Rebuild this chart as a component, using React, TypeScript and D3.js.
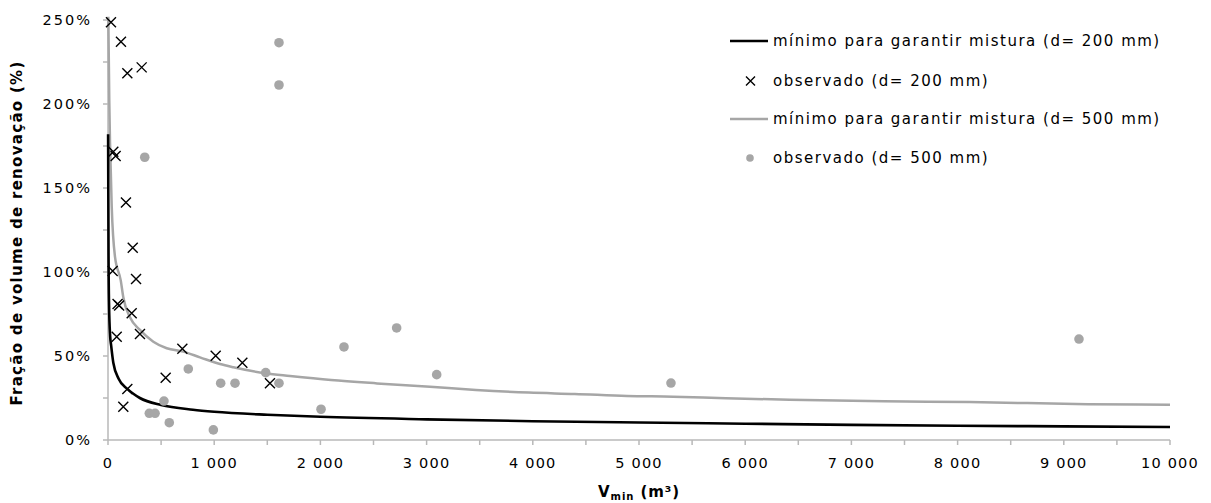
import React from "react";
import * as d3 from "d3";

// Observed renewal fractions (V in m³, fraction in %)
const obs200V = [28, 122, 182, 317, 50, 72, 169, 233, 44, 264, 90, 105, 223, 82, 301, 700, 543, 1014, 1265, 1525, 182, 144];
const obs200P = [248.6, 237, 218.3, 221.8, 171.6, 169, 141.3, 114.5, 100.6, 95.8, 81, 80, 75.4, 61.5, 63.1, 54.3, 37.1, 50.2, 46, 33.8, 30.4, 19.8];

const obs500V = [1610, 1610, 346, 756, 1061, 1196, 1485, 1610, 527, 389, 443, 577, 992, 2006, 2222, 2718, 3095, 5301, 9143];
const obs500P = [236.5, 211.3, 168.3, 42.3, 33.8, 33.8, 40.1, 33.8, 23.2, 15.9, 15.9, 10.3, 6.0, 18.3, 55.4, 66.7, 38.9, 33.9, 60.1];

// Minimum renewal needed to guarantee mixing
const min200V = [1, 5, 10, 20, 30, 50, 100, 182, 300, 500, 800, 1000, 1500, 2000, 3000, 4000, 5000, 6000, 7000, 8000, 9000, 10000];
const min200P = [182, 110, 80, 62, 56, 46, 36.5, 30.4, 25, 20.8, 18, 16.8, 15, 13.8, 12.3, 11.2, 10.4, 9.7, 9.0, 8.5, 8.1, 7.7];

const min500V = [3, 12, 19, 35, 66, 120, 144, 207, 301, 427, 553, 709, 866, 1055, 1180, 1483, 1714, 2100, 2533, 3032, 3465, 3962, 4395, 4887, 5320, 5819, 6563, 7307, 8112, 9228, 10000];
const min500P = [252, 202, 177, 139, 109, 95, 85, 73, 65.5, 58.5, 54.6, 52.6, 49.2, 45.2, 43.3, 39.7, 38.1, 35.7, 33.7, 31.7, 29.8, 28.2, 27.4, 26.2, 25.8, 24.8, 23.8, 23.0, 22.6, 21.3, 21.0];

const xTicks = [0, 1000, 2000, 3000, 4000, 5000, 6000, 7000, 8000, 9000, 10000];
const xMinor = d3.range(0, 10001, 500);
const yTicks = [0, 50, 100, 150, 200, 250];
const yMinor = d3.range(0, 251, 25);

const legendLabels = [
  "mínimo para garantir mistura (d= 200 mm)",
  "observado (d= 200 mm)",
  "mínimo para garantir mistura (d= 500 mm)",
  "observado (d= 500 mm)",
];

const GREY = "#a6a6a6";
const AXIS = "#b8b8b8";
const FONT = "'DejaVu Sans', Verdana, sans-serif";

const fmtX = (v: number) => (v >= 1000 ? `${Math.floor(v / 1000)} ${String(v % 1000).padStart(3, "0")}` : `${v}`);

export default function App() {
  const x = d3.scaleLinear().domain([0, 10000]).range([108, 1170]);
  const y = d3.scaleLinear().domain([0, 250]).range([440, 20]);
  const line = d3
    .line<[number, number]>()
    .x((d) => x(d[0]))
    .y((d) => y(d[1]))
    .curve(d3.curveMonotoneX);

  const c200 = min200V.map((v, i) => [v, min200P[i]] as [number, number]);
  const c500 = min500V.map((v, i) => [v, min500P[i]] as [number, number]);

  const cross = (cx: number, cy: number, s: number, key: string | number) => (
    <path
      key={key}
      d={`M${cx - s},${cy - s}L${cx + s},${cy + s}M${cx - s},${cy + s}L${cx + s},${cy - s}`}
      stroke="#000"
      strokeWidth={1.4}
      fill="none"
    />
  );

  const legY = [41, 81, 119, 158];

  return (
    <svg
      width={1211}
      height={503}
      style={{ position: "absolute", left: 0, top: 0, background: "#fff" }}
      fontFamily={FONT}
    >
      {/* axes */}
      <line x1={x(0)} x2={x(10000)} y1={y(0)} y2={y(0)} stroke={AXIS} strokeWidth={1.5} />
      <line x1={x(0)} x2={x(0)} y1={y(0)} y2={y(250)} stroke={AXIS} strokeWidth={1.5} />
      {xMinor.map((v) => (
        <line key={`xt${v}`} x1={x(v)} x2={x(v)} y1={y(0)} y2={y(0) + 5} stroke={AXIS} strokeWidth={1.5} />
      ))}
      {yMinor.map((v) => (
        <line key={`yt${v}`} x1={x(0) - 5} x2={x(0)} y1={y(v)} y2={y(v)} stroke={AXIS} strokeWidth={1.5} />
      ))}
      {xTicks.map((v) => (
        <text key={`xl${v}`} x={x(v)} y={463} textAnchor="middle" dominantBaseline="central" fontSize={14.5} letterSpacing={1.2} fill="#000">
          {fmtX(v)}
        </text>
      ))}
      {yTicks.map((v) => (
        <text key={`yl${v}`} x={92} y={y(v)} textAnchor="end" dominantBaseline="central" fontSize={14.5} letterSpacing={2} fill="#000">
          {`${v}%`}
        </text>
      ))}

      {/* axis titles */}
      <text
        transform={`translate(17,233) rotate(-90)`}
        textAnchor="middle"
        dominantBaseline="central"
        fontSize={15}
        fontWeight="bold"
        letterSpacing={1.3}
      >
        Fração de volume de renovação (%)
      </text>
      <text x={639} y={497} textAnchor="middle" fontSize={15} fontWeight="bold" letterSpacing={0.9}>
        V<tspan fontSize={10} dy={3}>min</tspan>
        <tspan dy={-3}> (m³)</tspan>
      </text>

      {/* curves */}
      <path d={line(c500) ?? ""} fill="none" stroke={GREY} strokeWidth={2.5} />
      <path d={line(c200) ?? ""} fill="none" stroke="#000" strokeWidth={2.6} />

      {/* observations */}
      {obs500V.map((v, i) => (
        <circle key={`o5${i}`} cx={x(v)} cy={y(obs500P[i])} r={4.8} fill={GREY} />
      ))}
      {obs200V.map((v, i) => cross(x(v), y(obs200P[i]), 5, `o2${i}`))}

      {/* legend */}
      <line x1={730} x2={768} y1={legY[0]} y2={legY[0]} stroke="#000" strokeWidth={2.6} />
      {cross(750.5, legY[1], 4.5, "lgx")}
      <line x1={730} x2={768} y1={legY[2]} y2={legY[2]} stroke={GREY} strokeWidth={2.5} />
      <circle cx={750} cy={legY[3]} r={3.8} fill={GREY} />
      {legendLabels.map((t, i) => (
        <text key={`lg${i}`} x={773} y={legY[i]} dominantBaseline="central" fontSize={15} letterSpacing={1.5} fill="#000">
          {t}
        </text>
      ))}
    </svg>
  );
}
